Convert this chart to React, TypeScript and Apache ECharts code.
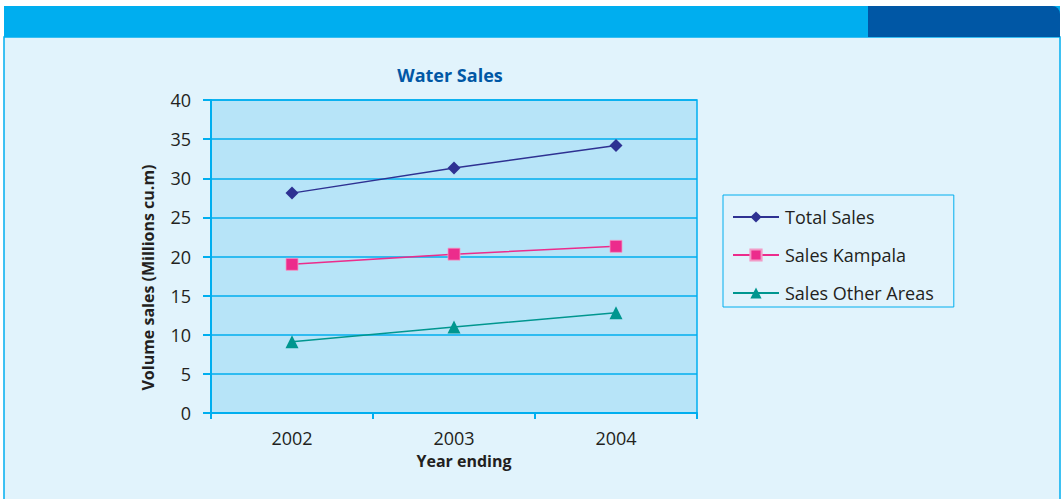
import React, { useEffect, useRef } from "react";
import * as echarts from "echarts";

const years = ["2002", "2003", "2004"];
const totalSales = [28.1, 31.3, 34.2];
const salesKampala = [19.0, 20.3, 21.3];
const salesOther = [9.1, 11.0, 12.8];
const yTicks = { min: 0, max: 40, interval: 5 };

const FONT = "'Open Sans', 'Noto Sans', sans-serif";

export default function App() {
  const ref = useRef<HTMLDivElement>(null);
  useEffect(() => {
    document.body.style.margin = "0";
    const chart = echarts.init(ref.current!, null, { renderer: "svg" });
    chart.setOption({
      animation: false,
      backgroundColor: "#ffffff",
      graphic: [
        {
          type: "rect",
          z: -10,
          shape: { x: 4, y: 37, width: 1056, height: 470 },
          style: { fill: "#E1F3FC", stroke: "#00AEEF", lineWidth: 1.5 },
        },
        {
          type: "rect",
          z: -9,
          shape: { x: 4, y: 6, width: 1056, height: 31 },
          style: { fill: "#00AEEF" },
        },
        {
          type: "rect",
          z: -8,
          shape: { x: 868, y: 6, width: 192, height: 31, r: [0, 8, 0, 0] },
          style: { fill: "#0057A5" },
        },
      ],
      title: {
        text: "Water Sales",
        left: 445,
        top: 61,
        textAlign: "center",
        textStyle: { fontFamily: FONT, fontSize: 18, fontWeight: "bold", color: "#0057A5" },
      },
      grid: {
        left: 211,
        right: 366,
        top: 100,
        bottom: 86,
        show: true,
        backgroundColor: "#B7E4F8",
        borderColor: "#00AEEF",
        borderWidth: 1.5,
      },
      legend: {
        orient: "vertical",
        left: 723,
        top: 195,
        padding: [13, 20, 5, 9],
        itemGap: 20,
        itemWidth: 46,
        itemHeight: 14,
        borderColor: "#00AEEF",
        borderWidth: 1,
        textStyle: { fontFamily: FONT, fontSize: 18, color: "#231F20", padding: [0, 0, 0, 1] },
        data: ["Total Sales", "Sales Kampala", "Sales Other Areas"],
      },
      xAxis: {
        type: "category",
        data: years,
        boundaryGap: true,
        name: "Year ending",
        nameLocation: "middle",
        nameGap: 40,
        nameTextStyle: {
          fontFamily: FONT,
          fontSize: 16,
          fontWeight: "bold",
          color: "#231F20",
          padding: [0, 0, 0, 20],
        },
        axisLine: { lineStyle: { color: "#00AEEF", width: 2 } },
        axisTick: { show: true, length: 6, lineStyle: { color: "#00AEEF", width: 2 } },
        axisLabel: { fontFamily: FONT, fontSize: 18, color: "#231F20", margin: 16 },
      },
      yAxis: {
        type: "value",
        min: yTicks.min,
        max: yTicks.max,
        interval: yTicks.interval,
        name: "Volume sales (Millions cu.m)",
        nameLocation: "middle",
        nameGap: 55,
        nameTextStyle: {
          fontFamily: FONT,
          fontSize: 16,
          fontWeight: "bold",
          color: "#231F20",
          padding: [0, 42, 0, 0],
        },
        axisLine: { show: true, lineStyle: { color: "#00AEEF", width: 2 } },
        axisTick: { show: true, length: 8, lineStyle: { color: "#00AEEF", width: 2 } },
        splitLine: { lineStyle: { color: "#00AEEF", width: 1.5 } },
        axisLabel: { fontFamily: FONT, fontSize: 18, color: "#231F20", margin: 20 },
      },
      series: [
        {
          name: "Total Sales",
          type: "line",
          data: totalSales,
          symbol: "diamond",
          symbolSize: 13,
          color: "#2E3192",
          lineStyle: { width: 1.5, color: "#2E3192" },
          itemStyle: { color: "#2E3192" },
        },
        {
          name: "Sales Kampala",
          type: "line",
          data: salesKampala,
          symbol: "rect",
          symbolSize: 12,
          color: "#EC2C8C",
          lineStyle: { width: 1.5, color: "#EC2C8C" },
          itemStyle: { color: "#EC2C8C", borderColor: "#F29AC6", borderWidth: 0.8 },
        },
        {
          name: "Sales Other Areas",
          type: "line",
          data: salesOther,
          symbol: "triangle",
          symbolSize: 13,
          color: "#00968F",
          lineStyle: { width: 1.5, color: "#00968F" },
          itemStyle: { color: "#00968F" },
        },
      ],
    });
    return () => chart.dispose();
  }, []);
  return <div ref={ref} style={{ width: 1063, height: 499 }} />;
}
